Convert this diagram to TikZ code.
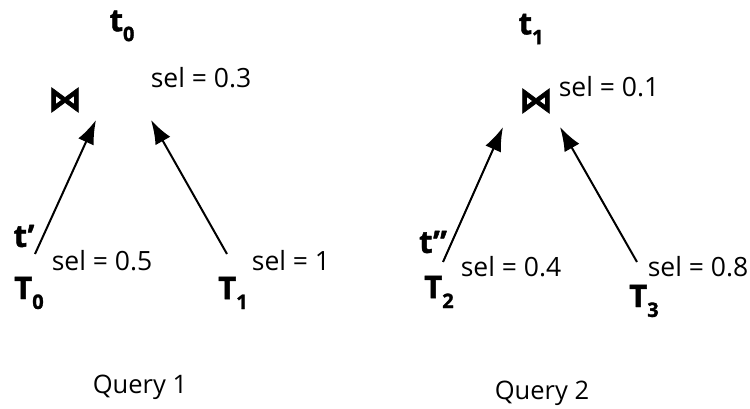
\documentclass[tikz,border=0pt]{standalone}
\usepackage{fontspec}
\setmainfont{Open Sans}
\newfontfamily\heavy[BoldFeatures={FakeBold=1.5}]{Open Sans}
\newfontfamily\symfont[BoldFeatures={FakeBold=2}]{DejaVu Sans}
\usetikzlibrary{arrows.meta}
\begin{document}
\begin{tikzpicture}[x=1pt,y=-1pt,
  sel/.style={inner sep=0pt,font=\fontsize{26.5}{30}\selectfont},
  lbl/.style={inner sep=0pt,font=\fontsize{31}{34}\selectfont\heavy\bfseries},
  joinop/.style={inner sep=0pt,font=\fontsize{34}{36}\selectfont\symfont\bfseries},
  caption/.style={inner sep=0pt,font=\fontsize{25.5}{28}\selectfont},
  edgearrow/.style={line width=2pt,-{Latex[length=24pt,width=17pt]}}]
\newcommand{\sbx}[2]{#1\raisebox{-0.32em}{\fontsize{20}{21}\selectfont #2}}
\useasboundingbox (0,0) rectangle (750,409);
% Query 1
\node[lbl] (t0) at (122,26) {\sbx{t}{0}};
\node[joinop] (j0) at (65,100) {⋈};
\node[sel] (s03) at (201,78) {sel = 0.3};
\coordinate (h1) at (96,120);
\coordinate (h2) at (151,120);
\coordinate (a1) at (35,254);
\coordinate (a2) at (227,254);
\draw[edgearrow] (a1) -- (h1);
\draw[edgearrow] (a2) -- (h2);
\node[lbl] (tp) at (24,236) {t’};
\node[sel] (s05) at (102,261) {sel = 0.5};
\node[lbl] (T0) at (29,293) {\sbx{T}{0}};
\node[lbl] (T1) at (233,293) {\sbx{T}{1}};
\node[sel] (s1) at (291,261) {sel = 1};
\node[caption] (q1) at (140,387) {Query 1};
% Query 2
\node[lbl] (t1) at (531,29) {\sbx{t}{1}};
\node[joinop] (j1) at (536,101) {⋈};
\node[sel] (s01) at (609,87) {sel = 0.1};
\coordinate (h3) at (503,127);
\coordinate (h4) at (560,127);
\coordinate (a3) at (443,262);
\coordinate (a4) at (637,262);
\draw[edgearrow] (a3) -- (h3);
\draw[edgearrow] (a4) -- (h4);
\node[lbl] (tpp) at (433,242) {t”};
\node[sel] (s04) at (511,267) {sel = 0.4};
\node[lbl] (T2) at (439,292) {\sbx{T}{2}};
\node[lbl] (T3) at (644,301) {\sbx{T}{3}};
\node[sel] (s08) at (698,267) {sel = 0.8};
\node[caption] (q2) at (542,393) {Query 2};
\end{tikzpicture}
\end{document}
